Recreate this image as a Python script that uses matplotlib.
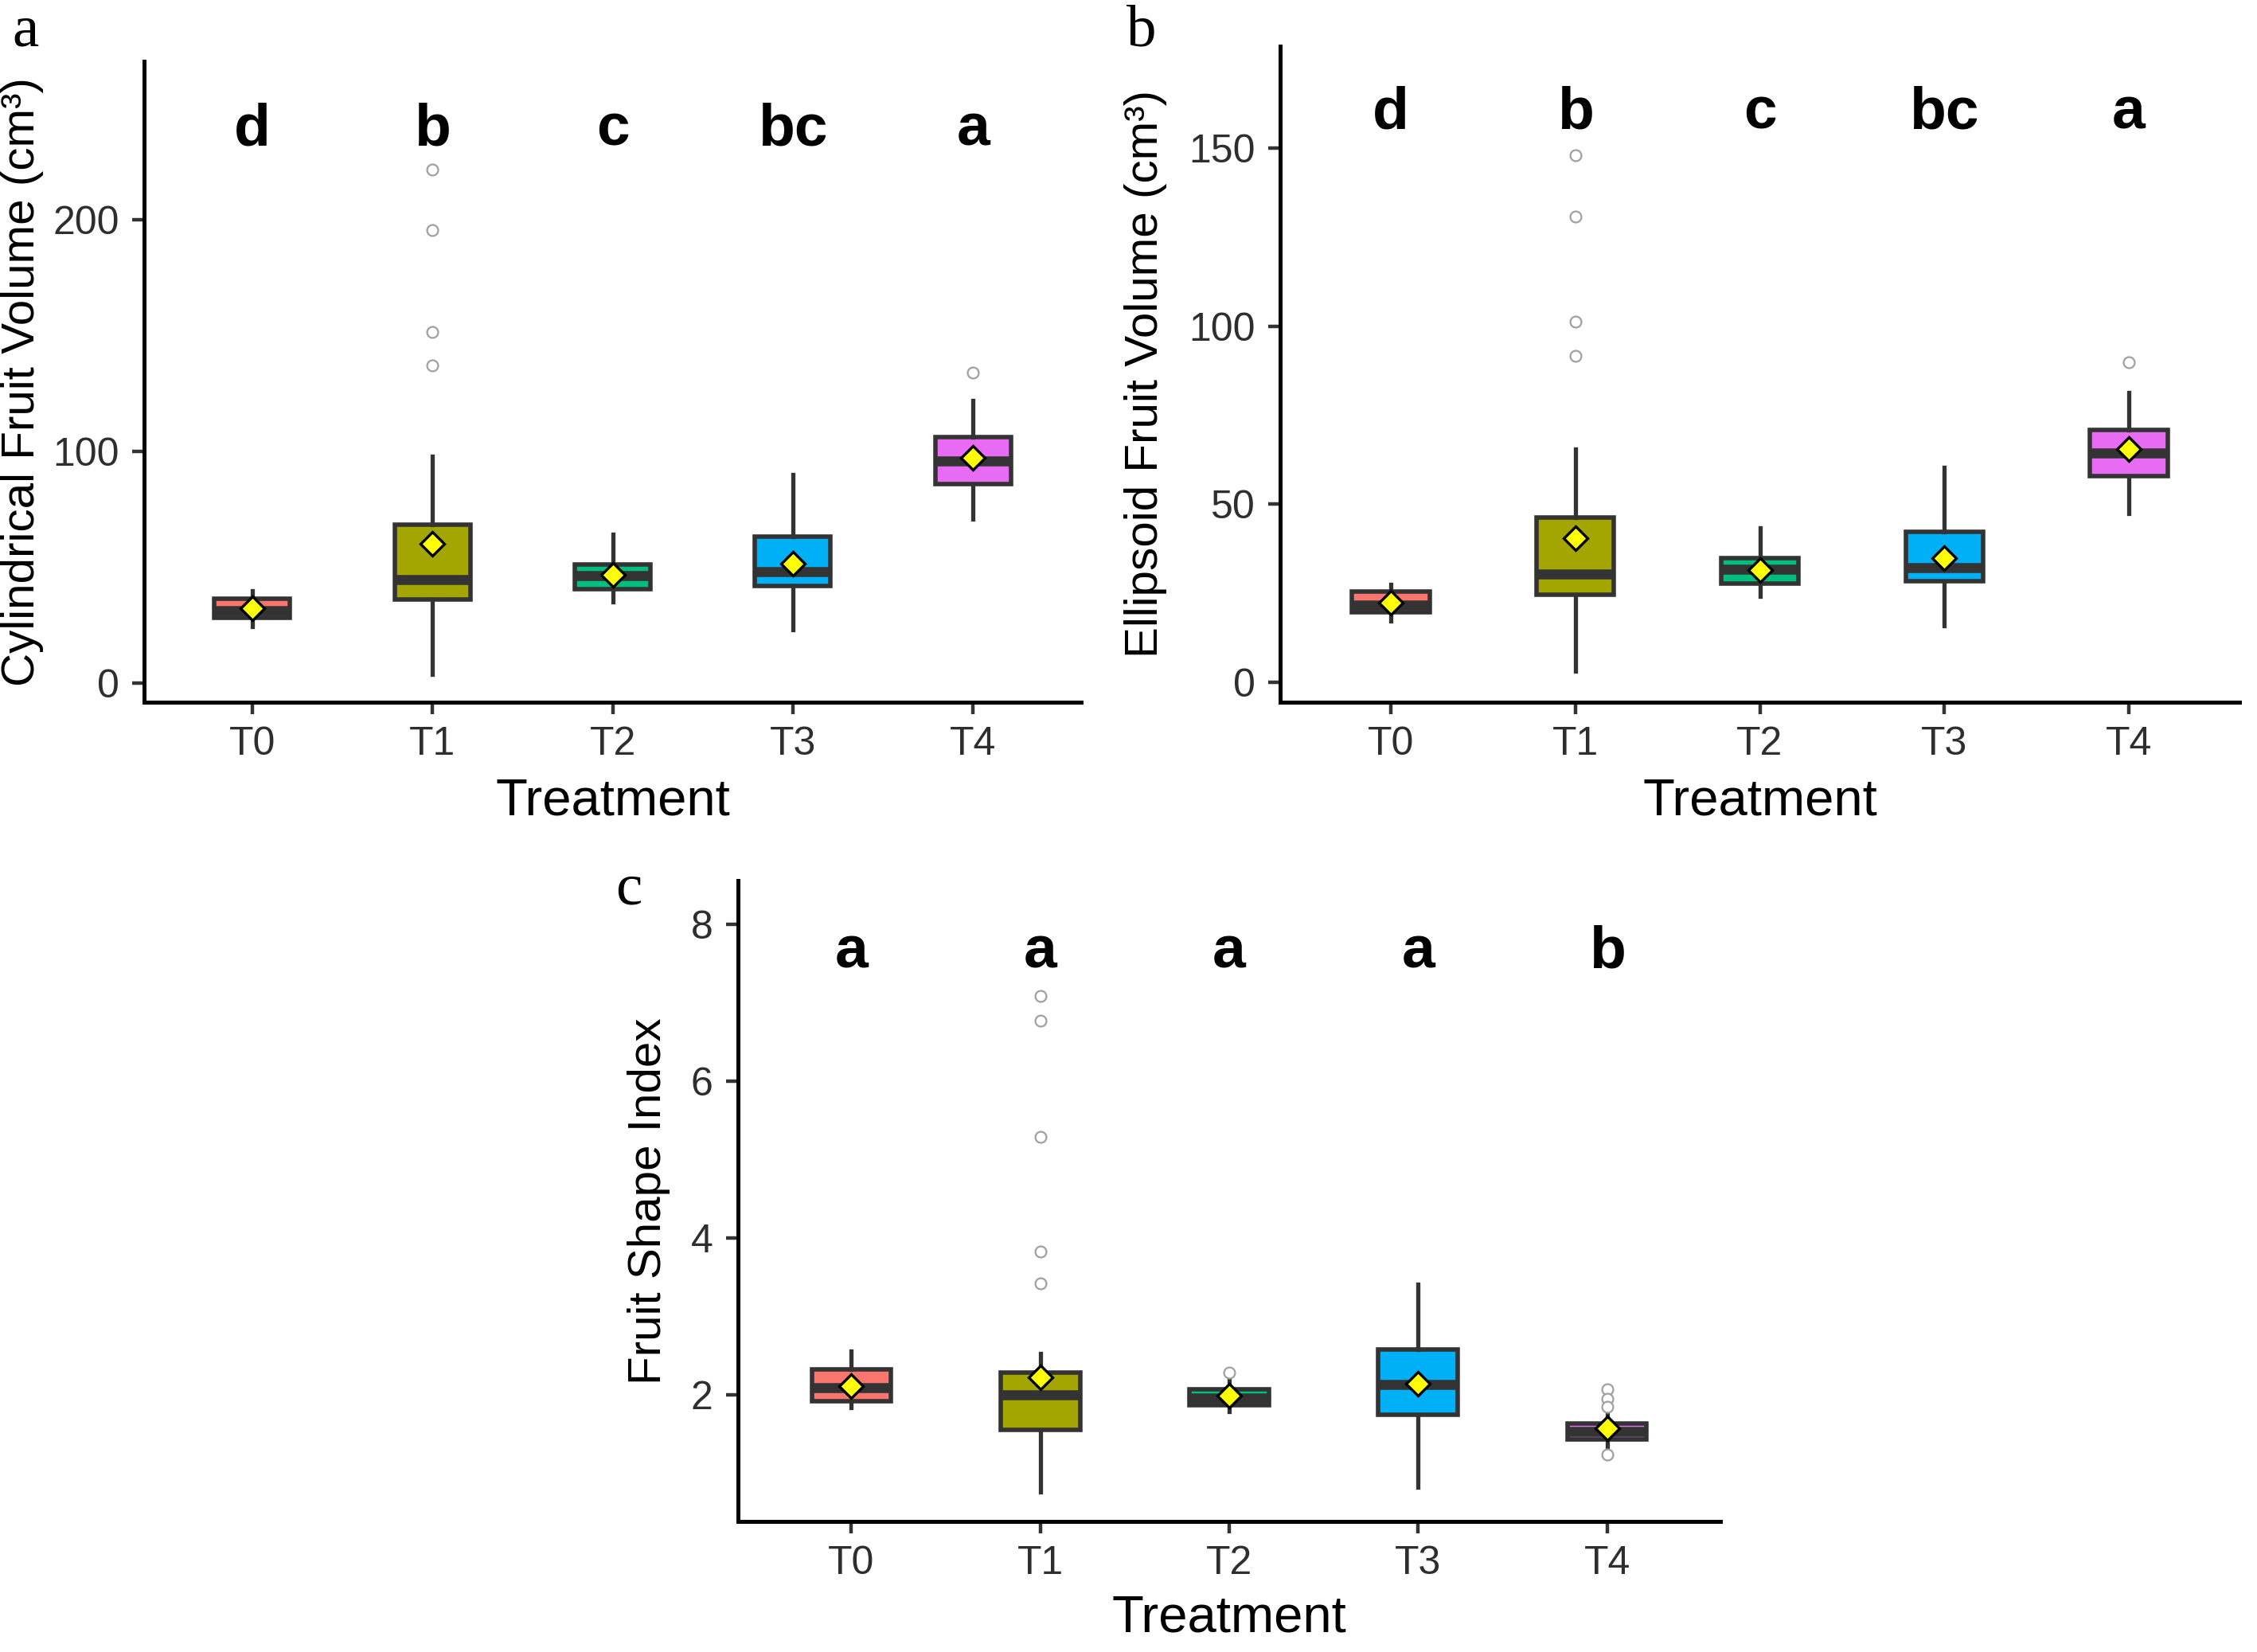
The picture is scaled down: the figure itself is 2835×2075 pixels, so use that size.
import matplotlib
matplotlib.use("Agg")
import matplotlib.pyplot as plt

plt.rcParams['font.family'] = ['Liberation Sans', 'DejaVu Sans']

treatments = ['T0', 'T1', 'T2', 'T3', 'T4']
colors = ['#F8766D', '#A3A500', '#00BF7D', '#00B0F6', '#E76BF3']

# panel a: cylindrical fruit volume (cm3)
cyl_q1 = [28.2, 36.1, 40.5, 41.8, 85.8]
cyl_med = [31.3, 44.7, 46.4, 48.3, 95.8]
cyl_q3 = [36.4, 68.4, 51.2, 63.1, 106.3]
cyl_lo = [24.4, 3.8, 35.0, 23.2, 70.8]
cyl_hi = [39.9, 97.9, 64.3, 90.0, 122.0]
cyl_mean = [32.3, 60.1, 46.7, 51.5, 97.4]
cyl_out = [[], [221.6, 195.6, 151.5, 137.1], [], [], [134.1]]
cyl_letters = ['d', 'b', 'c', 'bc', 'a']

# panel b: ellipsoid fruit volume (cm3)
ell_q1 = [19.6, 24.5, 27.6, 28.3, 57.9]
ell_med = [21.6, 30.3, 31.6, 32.2, 64.4]
ell_q3 = [25.4, 46.2, 34.8, 42.1, 70.9]
ell_lo = [17.1, 3.0, 24.1, 15.7, 47.4]
ell_hi = [27.4, 65.5, 43.2, 60.3, 81.4]
ell_mean = [22.2, 40.5, 31.5, 34.8, 65.5]
ell_out = [[], [148.0, 130.8, 101.2, 91.7], [], [], [89.8]]
ell_letters = ['d', 'b', 'c', 'bc', 'a']

# panel c: fruit shape index
fsi_q1 = [1.92, 1.56, 1.87, 1.75, 1.44]
fsi_med = [2.10, 2.00, 1.96, 2.14, 1.54]
fsi_q3 = [2.33, 2.29, 2.07, 2.58, 1.64]
fsi_lo = [1.84, 0.77, 1.79, 0.83, 1.34]
fsi_hi = [2.56, 2.53, 2.22, 3.41, 1.75]
fsi_mean = [2.12, 2.23, 1.99, 2.15, 1.58]
fsi_out = [[], [7.09, 6.77, 5.29, 3.83, 3.42], [2.29], [], [2.07, 1.95, 1.85, 1.24]]
fsi_letters = ['a', 'a', 'a', 'a', 'b']

W, H = 2835, 2075
fig = plt.figure(figsize=(W / 100, H / 100), dpi=100)


def px_axes(left, right, top, bottom):
    return fig.add_axes([left / W, 1 - bottom / H, (right - left) / W, (bottom - top) / H])


def draw_panel(ax, q1, med, q3, lo, hi, mean, out, letters, ylim, yticks,
               ylabel, letter_y, ylabel_x, xlabel_y, panel, panel_xy):
    stats = []
    for i in range(len(treatments)):
        stats.append(dict(q1=q1[i], med=med[i], q3=q3[i], whislo=lo[i],
                          whishi=hi[i], fliers=out[i], label=treatments[i]))
    pos = list(range(len(treatments)))
    bp = ax.bxp(stats, positions=pos, widths=0.42, patch_artist=True,
                showcaps=False,
                boxprops=dict(edgecolor='#333333', linewidth=4.0),
                whiskerprops=dict(color='#333333', linewidth=3.8),
                medianprops=dict(color='#333333', linewidth=9.0, solid_capstyle='butt'),
                flierprops=dict(marker='o', markerfacecolor='white',
                                markeredgecolor='#a0a0a0', markersize=10,
                                markeredgewidth=1.6))
    for patch, c in zip(bp['boxes'], colors):
        patch.set_facecolor(c)
    ax.plot(pos, mean, linestyle='none', marker='D', markersize=15,
            markerfacecolor='#FFFF00', markeredgecolor='black',
            markeredgewidth=2.4, zorder=5)
    for i, t in enumerate(letters):
        ax.text(i, letter_y, t, ha='center', va='baseline', fontsize=54,
                fontweight='bold', color='black')

    ax.set_xlim(-0.6, 4.6)
    ax.set_ylim(*ylim)
    ax.set_yticks(yticks)
    ax.set_xticks(pos)
    ax.set_xticklabels(treatments)
    for s in ['top', 'right']:
        ax.spines[s].set_visible(False)
    for s in ['left', 'bottom']:
        ax.spines[s].set_linewidth(3.6)
        ax.spines[s].set_color('black')
    ax.tick_params(axis='both', length=10.5, width=3.2, color='#333333',
                   labelsize=36, labelcolor='#2e2e2e')
    ax.tick_params(axis='y', pad=12)
    ax.tick_params(axis='x', pad=11)

    bb = ax.get_position()
    ax.set_ylabel(ylabel, fontsize=42, color='black', ha='center', va='center',
                  rotation_mode='default')
    ax.yaxis.set_label_coords((ylabel_x / W - bb.x0) / bb.width, 0.5)
    ax.set_xlabel('Treatment', fontsize=47, color='black', ha='center', va='center')
    ax.xaxis.set_label_coords(0.5, ((1 - xlabel_y / H) - bb.y0) / bb.height)

    fig.text(panel_xy[0] / W, 1 - panel_xy[1] / H, panel, fontsize=54,
             family='Liberation Serif', ha='center', va='baseline')


ax_a = px_axes(181, 1358, 77, 882)
draw_panel(ax_a, cyl_q1, cyl_med, cyl_q3, cyl_lo, cyl_hi, cyl_mean, cyl_out,
           cyl_letters, (-8.2, 268.4), [0, 100, 200],
           'Cylindrical Fruit Volume (cm³)', 232, 28, 1007, 'a', (32, 57))

ax_b = px_axes(1608, 2813, 58, 882)
draw_panel(ax_b, ell_q1, ell_med, ell_q3, ell_lo, ell_hi, ell_mean, ell_out,
           ell_letters, (-5.7, 178.7), [0, 50, 100, 150],
           'Ellipsoid Fruit Volume (cm³)', 155.5, 1439, 1007, 'b', (1434, 57))

ax_c = px_axes(927, 2161, 1106, 1911)
draw_panel(ax_c, fsi_q1, fsi_med, fsi_q3, fsi_lo, fsi_hi, fsi_mean, fsi_out,
           fsi_letters, (0.39, 8.56), [2, 4, 6, 8],
           'Fruit Shape Index', 7.45, 815, 2032, 'c', (790, 1135))

fig.savefig('out.png', dpi=100)
